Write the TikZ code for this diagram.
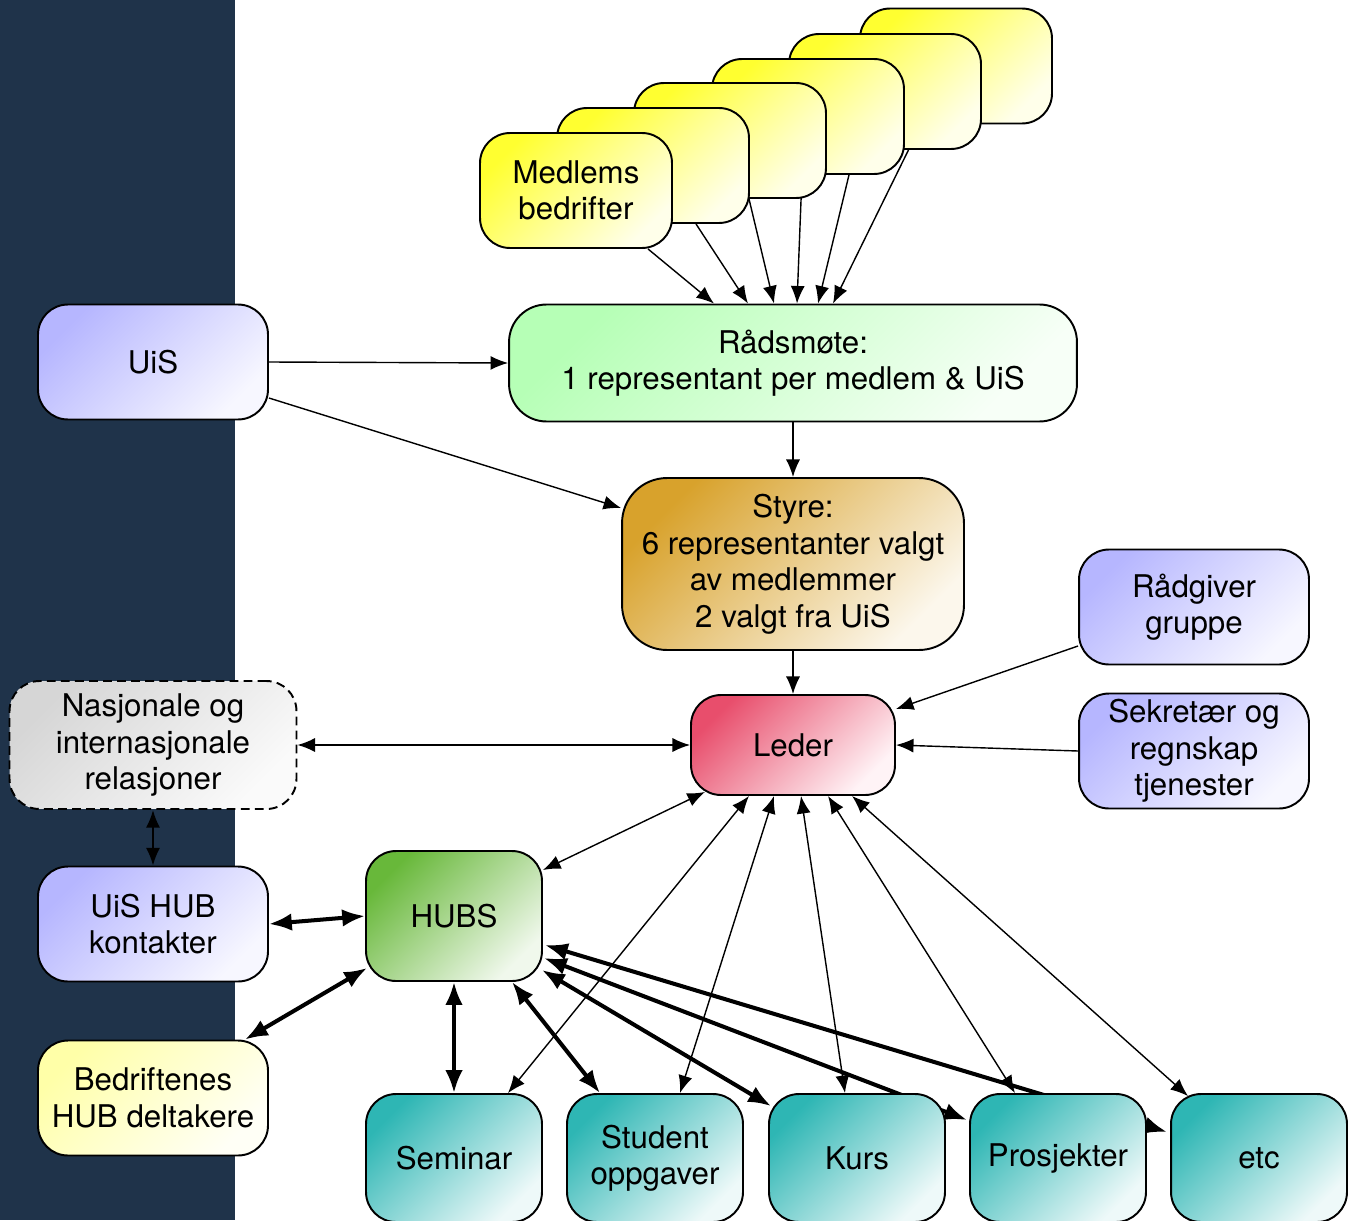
\documentclass[tikz,border=0pt]{standalone}
\usepackage{fontspec}
\setmainfont{TeX Gyre Heros}
\usetikzlibrary{arrows.meta,calc}
\definecolor{navy}{HTML}{1F334A}
\definecolor{memberA}{HTML}{FFFF30}\definecolor{memberB}{HTML}{FFFFEA}
\definecolor{lilacA}{HTML}{B6B6FF}\definecolor{lilacB}{HTML}{F7F7FF}
\definecolor{raadA}{HTML}{B6FFB6}\definecolor{raadB}{HTML}{F7FFF7}
\definecolor{styreA}{HTML}{D8A22C}\definecolor{styreB}{HTML}{FCF7EC}
\definecolor{lederA}{HTML}{E84E6C}\definecolor{lederB}{HTML}{FFF3F6}
\definecolor{nasjA}{HTML}{D6D6D6}\definecolor{nasjB}{HTML}{FAFAFA}
\definecolor{hubsA}{HTML}{68B83A}\definecolor{hubsB}{HTML}{F0F8EC}
\definecolor{actA}{HTML}{2EB6B4}\definecolor{actB}{HTML}{EEF9F9}
\definecolor{bedriftA}{HTML}{FFFFA8}\definecolor{bedriftB}{HTML}{FFFFF6}
\pgfdeclarelayer{background}
\pgfdeclarelayer{edges}
\pgfsetlayers{background,edges,main}
\tikzstyle{block} = [draw, line width=1.1pt, rounded corners=0.6cm, align=center,
    inner sep=2pt, font=\fontsize{17.8}{20.8}\selectfont]
\tikzset{fade/.style 2 args={top color=#1, bottom color=#2, shading angle=45}}
\tikzstyle{member} = [block, fade={memberA}{memberB}, minimum width=3.84cm, minimum height=2.3cm]
\tikzstyle{lilac} = [block, fade={lilacA}{lilacB}, minimum width=4.6cm, minimum height=2.3cm]
\tikzstyle{activity} = [block, fade={actA}{actB}, minimum width=3.52cm, minimum height=2.56cm]
\tikzstyle{line} = [draw, line width=0.8pt, -{Latex[length=10pt,width=8pt]}]
\tikzstyle{twoway} = [draw, line width=0.8pt, {Latex[length=10pt,width=8pt]}-{Latex[length=10pt,width=8pt]}]
\tikzstyle{hubline} = [draw, line width=2.3pt, {Latex[length=13pt,width=10pt]}-{Latex[length=13pt,width=10pt]}]

\begin{document}
\begin{tikzpicture}[x=0.02cm, y=-0.02cm]
    \useasboundingbox (0,0) rectangle (1355,1220);
    \begin{pgfonlayer}{background}
        \fill[navy] (0,0) rectangle (235,1220);
    \end{pgfonlayer}
    % Place nodes
    \node [block, fade={raadA}{raadB}, minimum width=11.36cm, minimum height=2.34cm, rounded corners=0.75cm] (raad) at (793,363) {Rådsmøte:\\1 representant per medlem \& UiS};
    \foreach \i/\x/\y/\txt in {6/956/66/, 5/885/91.5/, 4/808/116.5/, 3/730/140.5/, 2/653/165.5/, 1/576/190.5/{Medlems\\bedrifter}}
        \node [member] (m\i) at (\x,\y) {\txt};
    \node [lilac] (uis) at (153,362) {UiS};
    \node [block, fade={styreA}{styreB}, minimum width=6.84cm, minimum height=3.44cm, rounded corners=0.9cm] (styre) at (793,564) {Styre:\\6 representanter valgt\\av medlemmer\\2 valgt fra UiS};
    \node [block, fade={lederA}{lederB}, minimum width=4.08cm, minimum height=2cm] (leder) at (793,745) {Leder};
    \node [lilac] (raadgiver) at (1194,607) {Rådgiver\\gruppe};
    \node [lilac] (sekretaer) at (1194,751) {Sekretær og\\regnskap\\tjenester};
    \node [block, dashed, dash pattern=on 5pt off 3pt, fade={nasjA}{nasjB}, minimum width=5.74cm, minimum height=2.56cm] (nasjonal) at (153,745) {Nasjonale og\\internasjonale\\relasjoner};
    \node [lilac] (uishub) at (153,924) {UiS HUB\\kontakter};
    \node [block, fade={hubsA}{hubsB}, minimum width=3.52cm, minimum height=2.6cm] (hubs) at (454,916) {HUBS};
    \node [lilac, fade={bedriftA}{bedriftB}] (bedrift) at (153,1098) {Bedriftenes\\HUB deltakere};
    \node [activity] (seminar) at (454,1158) {Seminar};
    \node [activity] (student) at (655,1158) {Student\\oppgaver};
    \node [activity] (kurs) at (857,1158) {Kurs};
    \node [activity] (prosjekt) at (1058,1158) {Prosjekter};
    \node [activity] (etc) at (1259,1158) {etc};
    % Draw edges
    \begin{pgfonlayer}{edges}
    \foreach \i/\s/\e in {1/72/-79, 2/43/-45, 3/19/-19, 4/-6/4, 5/-30/25, 6/-35/40}
        \path [line] ($(m\i.south)+(\s,0)$) -- ($(raad.north)+(\e,0)$);
    \path [line] (uis.east) -- (raad.west);
    \path [line] ($(uis.east)+(0,36)$) -- ($(styre.west)+(0,-56)$);
    \path [line] (raad.south) -- (styre.north);
    \path [line] (styre.south) -- (leder.north);
    \path [line] ($(raadgiver.west)+(0,39)$) -- ($(leder.east)+(0,-36)$);
    \path [line] (sekretaer.west) -- (leder.east);
    \path [twoway] (leder.west) -- (nasjonal.east);
    \path [twoway, line width=1.2pt] (nasjonal.south) -- (uishub.north);
    \path [twoway] ($(leder.south)+(-88,-4)$) -- ($(hubs.east)+(0,-46)$);
    \path [twoway] ($(leder.south)+(-44,0)$) -- ($(seminar.north)+(54,0)$);
    \path [twoway] ($(leder.south)+(-19,0)$) -- ($(student.north)+(25,0)$);
    \path [twoway] ($(leder.south)+(8,0)$) -- ($(kurs.north)+(-12,0)$);
    \path [twoway] ($(leder.south)+(35,0)$) -- ($(prosjekt.north)+(-43,0)$);
    \path [twoway] ($(leder.south)+(59,0)$) -- ($(etc.north)+(-71,3)$);
    \path [hubline] (uishub.east) -- (hubs.west);
    \path [hubline] ($(bedrift.north)+(92,0)$) -- ($(hubs.west)+(2,52)$);
    \path [hubline] (hubs.south) -- (seminar.north);
    \path [hubline] ($(hubs.south)+(58,0)$) -- ($(student.north)+(-55,0)$);
    \path [hubline] ($(hubs.east)+(-1,54)$) -- ($(kurs.north west)+(3,13)$);
    \path [hubline] ($(hubs.east)+(1,42)$) -- ($(prosjekt.west)+(-2,-38)$);
    \path [hubline] ($(hubs.east)+(2,29)$) -- ($(etc.west)+(-3,-26)$);
    \end{pgfonlayer}
\end{tikzpicture}
\end{document}
